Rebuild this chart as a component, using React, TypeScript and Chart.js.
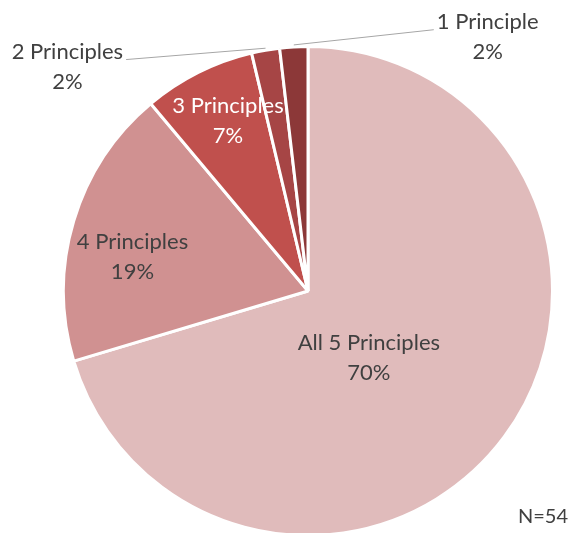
import React, { useEffect, useRef } from "react";
import { Chart, registerables } from "chart.js";

Chart.register(...registerables);

const categories = ["All 5 Principles", "4 Principles", "3 Principles", "2 Principles", "1 Principle"];
const counts = [38, 10, 4, 1, 1];
const percentLabels = ["70%", "19%", "7%", "2%", "2%"];
const sliceColors = ["#E0BBBB", "#D09191", "#C0504D", "#A64545", "#8C3838"];
const labelColors = ["#404040", "#404040", "#FFFFFF", "#404040", "#404040"];
const noteText = "N=54";

// label placement, in units of the pie radius relative to its centre
const labelOffsets = [
  { dx: 0.249, dy: 0.273, leader: false, side: 0 },
  { dx: -0.718, dy: -0.139, leader: false, side: 0 },
  { dx: -0.327, dy: -0.694, leader: false, side: 0 },
  { dx: -0.984, dy: -0.918, leader: true, side: 1 },
  { dx: 0.735, dy: -1.04, leader: true, side: -1 },
];

const FONT = "22px Lato, 'Open Sans', sans-serif";

const labelPlugin = {
  id: "sliceLabels",
  afterDatasetsDraw(chart: any) {
    const ctx = chart.ctx;
    const meta = chart.getDatasetMeta(0);
    ctx.save();
    ctx.font = FONT;
    ctx.textAlign = "center";
    ctx.textBaseline = "middle";
    const lineGap = 30;
    meta.data.forEach((arc: any, i: number) => {
      const { x, y, startAngle, endAngle, outerRadius } = arc.getProps(
        ["x", "y", "startAngle", "endAngle", "outerRadius"],
        true
      );
      const off = labelOffsets[i];
      const cx = x + off.dx * outerRadius;
      const cy = y + off.dy * outerRadius;
      const l1 = cy - lineGap / 2;
      const l2 = cy + lineGap / 2;
      if (off.leader) {
        const mid = (startAngle + endAngle) / 2;
        const ex = x + Math.cos(mid) * outerRadius;
        const ey = y + Math.sin(mid) * outerRadius;
        const w = ctx.measureText(categories[i]).width;
        const sx = cx + off.side * (w / 2 + 3);
        const sy = l1 + 8;
        ctx.strokeStyle = "#A6A6A6";
        ctx.lineWidth = 1;
        ctx.beginPath();
        ctx.moveTo(sx, sy);
        ctx.lineTo(ex, ey - 2);
        ctx.stroke();
      }
      ctx.fillStyle = labelColors[i];
      ctx.fillText(categories[i], cx, l1);
      ctx.fillText(percentLabels[i], cx, l2);
    });
    ctx.textAlign = "right";
    ctx.fillStyle = "#404040";
    ctx.font = "20px Lato, 'Open Sans', sans-serif";
    ctx.fillText(noteText, 568, 517);
    ctx.restore();
  },
};

export default function App() {
  const ref = useRef<HTMLCanvasElement | null>(null);
  useEffect(() => {
    if (!ref.current) return;
    const chart = new Chart(ref.current, {
      type: "pie",
      data: {
        labels: categories,
        datasets: [
          {
            data: counts,
            backgroundColor: sliceColors,
            borderColor: "#FFFFFF",
            borderWidth: 3,
          },
        ],
      },
      options: {
        responsive: false,
        animation: false,
        devicePixelRatio: 1,
        layout: { padding: { left: 62, right: 17, top: 45, bottom: 23 } },
        plugins: {
          legend: { display: false },
          tooltip: { enabled: false },
        },
      },
      plugins: [labelPlugin],
    });
    return () => chart.destroy();
  }, []);
  return (
    <div
      style={{
        position: "fixed",
        left: 0,
        top: 0,
        width: 571,
        height: 533,
        overflow: "hidden",
        background: "#FFFFFF",
      }}
    >
      <canvas ref={ref} width={571} height={560} style={{ width: 571, height: 560, display: "block" }} />
    </div>
  );
}
